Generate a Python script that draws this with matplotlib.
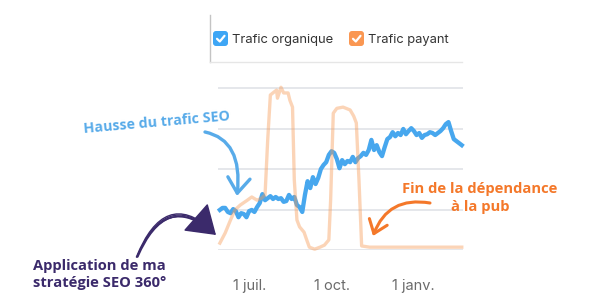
import matplotlib
matplotlib.use("Agg")
import matplotlib.pyplot as plt
import matplotlib.dates as mdates
from matplotlib.patches import FancyArrowPatch, FancyBboxPatch, ArrowStyle
from matplotlib.path import Path
import pandas as pd

# ---------------- data ----------------
organic_start = "2022-05-28"
organic_values = [0.99, 1.04, 1.04, 0.94, 0.91, 1.01, 0.96, 0.81, 0.91, 0.89,
                  0.81, 0.96, 0.99, 0.94, 1.06, 1.16, 1.38, 1.23, 1.28, 1.33,
                  1.26, 1.31, 1.26, 1.28, 1.19, 1.21, 1.36, 1.26, 1.31, 1.11,
                  1.06, 0.94, 1.36, 1.70, 1.53, 1.80, 1.63, 1.78, 2.00, 2.10,
                  2.17, 2.35, 2.44, 2.40, 2.25, 2.02, 2.22, 2.12, 2.20, 2.17,
                  2.30, 2.17, 2.27, 2.32, 2.40, 2.35, 2.47, 2.72, 2.47, 2.59,
                  2.42, 2.32, 2.54, 2.74, 2.79, 2.91, 2.81, 2.89, 2.84, 2.99,
                  2.86, 2.94, 3.01, 2.94, 2.84, 2.89, 2.77, 2.84, 2.86, 2.91,
                  2.89, 2.84, 2.89, 2.94, 3.01, 3.11, 3.16, 2.94, 2.74, 2.69,
                  2.64, 2.59]
organic_dates = pd.date_range(organic_start, periods=len(organic_values), freq="3D")

paid_dates = ["2022-05-28", "2022-06-03", "2022-06-09", "2022-06-14", "2022-06-20",
              "2022-06-28", "2022-07-03", "2022-07-09", "2022-07-14", "2022-07-18",
              "2022-07-21", "2022-07-24", "2022-07-28", "2022-07-31", "2022-08-01",
              "2022-08-05", "2022-08-08", "2022-08-13", "2022-08-15", "2022-08-18",
              "2022-08-20", "2022-08-23", "2022-08-26", "2022-08-31", "2022-09-03",
              "2022-09-06", "2022-09-12", "2022-09-18", "2022-09-23", "2022-09-28",
              "2022-09-30", "2022-10-03", "2022-10-07", "2022-10-14", "2022-10-22",
              "2022-10-26", "2022-10-29", "2022-11-01", "2022-11-04", "2022-11-13",
              "2023-02-25"]
paid_values = [0.17, 0.42, 0.74, 0.99, 1.11,
               1.23, 1.31, 1.23, 1.28, 1.36,
               2.72, 3.83, 3.90, 3.95, 3.75,
               4.02, 3.88, 3.88, 3.70, 3.53,
               1.73, 0.74, 0.57, 0.44, 0.25,
               0.07, 0.02, 0.07, 0.12, 0.25,
               1.23, 3.38, 3.50, 3.53, 3.46,
               3.31, 3.14, 1.73, 0.10, 0.07,
               0.07]

tick_dates = ["2022-07-01", "2022-10-01", "2023-01-01"]
tick_labels = ["1 juil.", "1 oct.", "1 janv."]
legend_labels = ["Trafic organique", "Trafic payant"]

BLUE = "#47a7ee"
ORANGE = "#f79a55"
PURPLE = "#3b2a6b"
ANN_BLUE = "#58abe9"
ANN_ORANGE = "#f4782a"

W, H = 600, 300
fig = plt.figure(figsize=(6, 3), dpi=100)
fig.patch.set_facecolor("white")

# ---------------- main chart ----------------
ax = fig.add_axes([218 / W, 50 / H, 245 / W, 170 / H])
ax.set_facecolor("none")
ax.plot(pd.to_datetime(paid_dates), paid_values, color=ORANGE, alpha=0.42,
        lw=2.4, solid_joinstyle="round", zorder=4, clip_on=False)
ax.plot(organic_dates, organic_values, color=BLUE, lw=3.1,
        solid_joinstyle="round", zorder=3, clip_on=False)

jul1 = mdates.date2num(pd.Timestamp("2022-07-01"))
ax.set_xlim(jul1 - 36.1, jul1 + 240.4)
ax.set_ylim(0, 4.2)
ax.set_yticks([0, 1, 2, 3, 4])
ax.set_yticklabels([])
ax.grid(axis="y", color="#e3e5e9", lw=1.3, zorder=0)
ax.set_xticks(pd.to_datetime(tick_dates))
ax.set_xticklabels(tick_labels, family=["Inter", "DejaVu Sans"], fontsize=10.5,
                   color="#6b6b6b")
ax.tick_params(axis="both", length=0, pad=21)
for s in ax.spines.values():
    s.set_visible(False)

# ---------------- overlay (pixel coordinates) ----------------
ov = fig.add_axes([0, 0, 1, 1], zorder=10)
ov.set_xlim(0, W)
ov.set_ylim(H, 0)
ov.axis("off")
ov.patch.set_alpha(0)

# legend panel frame
ov.plot([209.5, 209.5], [15, 62], color="#c4c4c4", lw=1)
ov.plot([209.5, 462], [62, 62], color="#e6e6e6", lw=1)

fig.canvas.draw()
renderer = fig.canvas.get_renderer()


def fit_text(x, y, s, target_w, **kw):
    t = ov.text(x, y, s, **kw)
    bb = t.get_window_extent(renderer=renderer)
    t.set_fontsize(t.get_fontsize() * target_w / bb.width)
    return t


def checkbox(x0, color):
    box = FancyBboxPatch((x0 + 1.5, 32.5), 12, 12,
                         boxstyle="round,pad=1.5,rounding_size=3",
                         fc=color, ec="none")
    ov.add_patch(box)
    ov.plot([x0 + 4, x0 + 6.8, x0 + 11.5], [38.8, 41.5, 35.8], color="white",
            lw=1.6, solid_capstyle="round", solid_joinstyle="round")


checkbox(213, "#3ea6f5")
checkbox(349, "#fa9752")
fit_text(232, 40, legend_labels[0], 101, family=["Inter", "DejaVu Sans"],
         fontsize=11, color="#333333", va="center", ha="left")
fit_text(368, 40, legend_labels[1], 80, family=["Inter", "DejaVu Sans"],
         fontsize=11, color="#333333", va="center", ha="left")

# annotations
fit_text(157, 123, "Hausse du trafic SEO", 147, family=["Open Sans", "DejaVu Sans"],
         weight="bold", fontsize=10, color=ANN_BLUE, ha="center", va="center",
         rotation=5, rotation_mode="anchor")
fit_text(33, 274.5, "Application de ma\nstratégie SEO 360°", 134,
         family=["Open Sans", "DejaVu Sans"], weight="bold", fontsize=10,
         color=PURPLE, ha="left", va="center", linespacing=1.35)
fit_text(480, 198, "Fin de la dépendance\nà la pub", 155,
         family=["Open Sans", "DejaVu Sans"], weight="bold", fontsize=10,
         color=ANN_ORANGE, ha="center", va="center", multialignment="center",
         linespacing=1.35)


def curve_arrow(p0, p1, p2, color, lw, style, ms):
    path = Path([p0, p1, p2], [Path.MOVETO, Path.CURVE3, Path.CURVE3])
    a = FancyArrowPatch(path=path, arrowstyle=style, mutation_scale=ms,
                        color=color, lw=lw, capstyle="round", joinstyle="round")
    ov.add_patch(a)


# blue arrow
curve_arrow((205, 132), (243, 140), (237, 196), ANN_BLUE, 2.4,
            ArrowStyle("->", head_length=0.55, head_width=0.4), 20)
# orange arrow
curve_arrow((430, 203), (388, 196), (373, 236), ANN_ORANGE, 2.2,
            ArrowStyle("->", head_length=0.5, head_width=0.38), 18)
# purple sketchy arrow
for dy, dx in [(0, 0), (2.2, 0.8), (-2.0, -0.6)]:
    curve_arrow((137 + dx, 257), (165 + dx, 190 + dy), (211, 230 + dy * 0.3),
                PURPLE, 1.0, ArrowStyle("-"), 10)
curve_arrow((137, 257), (165, 190), (216, 235), PURPLE, 1.1,
            ArrowStyle("-|>", head_length=1.2, head_width=0.8), 15)

fig.savefig("out.png", dpi=100, facecolor="white")
